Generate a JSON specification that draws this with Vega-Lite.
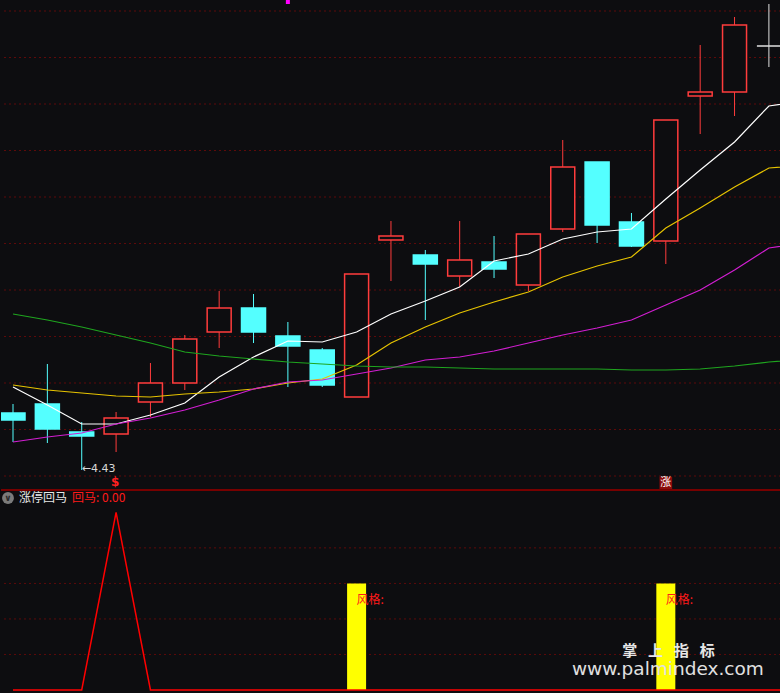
{
  "$schema": "https://vega.github.io/schema/vega-lite/v6.json",
  "background": "#0d0d10",
  "padding": 0,
  "spacing": 0,
  "bounds": "flush",
  "config": {"view": {"stroke": null}, "font": "DejaVu Sans", "scale": {"continuousPadding": 0}},
  "datasets": {
    "k": [
      {"i":1,"open":4.658,"close":4.63,"high":4.694,"low":4.542,"dir":"down"},
      {"i":2,"open":4.694,"close":4.594,"high":4.854,"low":4.538,"dir":"down"},
      {"i":3,"open":4.582,"close":4.566,"high":4.622,"low":4.43,"dir":"down"},
      {"i":4,"open":4.574,"close":4.638,"high":4.662,"low":4.502,"dir":"up"},
      {"i":5,"open":4.702,"close":4.778,"high":4.858,"low":4.642,"dir":"up"},
      {"i":6,"open":4.778,"close":4.954,"high":4.97,"low":4.75,"dir":"up"},
      {"i":7,"open":4.982,"close":5.078,"high":5.146,"low":4.918,"dir":"up"},
      {"i":8,"open":5.078,"close":4.982,"high":5.134,"low":4.938,"dir":"down"},
      {"i":9,"open":4.966,"close":4.926,"high":5.022,"low":4.762,"dir":"down"},
      {"i":10,"open":4.91,"close":4.77,"high":4.918,"low":4.762,"dir":"down"},
      {"i":11,"open":4.722,"close":5.214,"high":5.214,"low":4.722,"dir":"up"},
      {"i":12,"open":5.35,"close":5.366,"high":5.426,"low":5.186,"dir":"up"},
      {"i":13,"open":5.29,"close":5.254,"high":5.31,"low":5.03,"dir":"down"},
      {"i":14,"open":5.206,"close":5.27,"high":5.426,"low":5.162,"dir":"up"},
      {"i":15,"open":5.262,"close":5.234,"high":5.366,"low":5.198,"dir":"down"},
      {"i":16,"open":5.17,"close":5.374,"high":5.374,"low":5.146,"dir":"up"},
      {"i":17,"open":5.394,"close":5.642,"high":5.75,"low":5.382,"dir":"up"},
      {"i":18,"open":5.662,"close":5.41,"high":5.662,"low":5.338,"dir":"down"},
      {"i":19,"open":5.422,"close":5.326,"high":5.458,"low":5.322,"dir":"down"},
      {"i":20,"open":5.346,"close":5.83,"high":5.83,"low":5.254,"dir":"up"},
      {"i":21,"open":5.926,"close":5.942,"high":6.13,"low":5.774,"dir":"up"},
      {"i":22,"open":5.942,"close":6.21,"high":6.242,"low":5.846,"dir":"up"},
      {"i":23,"open":6.126,"close":6.126,"high":6.294,"low":6.042,"dir":"flat"}
    ],
    "ma": [
      {"i":1,"MA5":4.762,"MA10":4.77,"MA20":4.542,"MA60":5.054},
      {"i":2,"MA5":4.69,"MA10":4.75,"MA20":4.562,"MA60":5.03},
      {"i":3,"MA5":4.614,"MA10":4.738,"MA20":4.578,"MA60":5.002},
      {"i":4,"MA5":4.614,"MA10":4.726,"MA20":4.614,"MA60":4.97},
      {"i":5,"MA5":4.65,"MA10":4.722,"MA20":4.638,"MA60":4.938},
      {"i":6,"MA5":4.698,"MA10":4.734,"MA20":4.67,"MA60":4.902},
      {"i":7,"MA5":4.802,"MA10":4.742,"MA20":4.71,"MA60":4.886},
      {"i":8,"MA5":4.882,"MA10":4.754,"MA20":4.754,"MA60":4.874},
      {"i":9,"MA5":4.946,"MA10":4.778,"MA20":4.782,"MA60":4.862},
      {"i":10,"MA5":4.942,"MA10":4.794,"MA20":4.79,"MA60":4.854},
      {"i":11,"MA5":4.982,"MA10":4.85,"MA20":4.814,"MA60":4.846},
      {"i":12,"MA5":5.054,"MA10":4.938,"MA20":4.838,"MA60":4.842},
      {"i":13,"MA5":5.106,"MA10":5.002,"MA20":4.87,"MA60":4.842},
      {"i":14,"MA5":5.162,"MA10":5.058,"MA20":4.882,"MA60":4.838},
      {"i":15,"MA5":5.266,"MA10":5.102,"MA20":4.906,"MA60":4.834},
      {"i":16,"MA5":5.294,"MA10":5.142,"MA20":4.938,"MA60":4.834},
      {"i":17,"MA5":5.354,"MA10":5.202,"MA20":4.97,"MA60":4.834},
      {"i":18,"MA5":5.382,"MA10":5.246,"MA20":4.998,"MA60":4.834},
      {"i":19,"MA5":5.394,"MA10":5.282,"MA20":5.03,"MA60":4.83},
      {"i":20,"MA5":5.514,"MA10":5.398,"MA20":5.09,"MA60":4.83},
      {"i":21,"MA5":5.63,"MA10":5.478,"MA20":5.15,"MA60":4.834},
      {"i":22,"MA5":5.742,"MA10":5.562,"MA20":5.23,"MA60":4.846},
      {"i":23,"MA5":5.886,"MA10":5.638,"MA20":5.318,"MA60":4.862},
      {"i":24,"MA5":5.906,"MA10":5.65,"MA20":5.338,"MA60":4.874}
    ],
    "ind": [
      {"i":1,"v":0},{"i":2,"v":0},{"i":3,"v":0},{"i":4,"v":5},{"i":5,"v":0},{"i":6,"v":0},
      {"i":7,"v":0},{"i":8,"v":0},{"i":9,"v":0},{"i":10,"v":0},{"i":11,"v":0},{"i":12,"v":0},
      {"i":13,"v":0},{"i":14,"v":0},{"i":15,"v":0},{"i":16,"v":0},{"i":17,"v":0},{"i":18,"v":0},
      {"i":19,"v":0},{"i":20,"v":0},{"i":21,"v":0},{"i":22,"v":0},{"i":23,"v":0},{"i":24,"v":0}
    ],
    "zt": [{"i":11,"v":3},{"i":20,"v":3}],
    "gridTop": [{"level":6.266},{"level":6.08},{"level":5.894},{"level":5.708},{"level":5.522},{"level":5.336},{"level":5.15},{"level":4.964},{"level":4.778},{"level":4.592},{"level":4.406}],
    "gridBot": [{"level":1},{"level":2},{"level":3},{"level":4}]
  },
  "vconcat": [
    {
      "width": 780,
      "height": 490,
      "resolve": {"scale": {"color": "independent", "stroke": "independent", "fill": "independent"}},
      "layer": [
        {
          "data": {"name": "gridTop"},
          "mark": {"type": "rule", "color": "#5e0a0a", "strokeWidth": 1, "strokeDash": [2, 3]},
          "encoding": {
            "y": {"field": "level", "type": "quantitative", "scale": {"domain": [4.35, 6.31], "nice": false, "zero": false, "padding": 0}, "axis": null}
          }
        },
        {
          "data": {"name": "k"},
          "mark": {"type": "rule", "strokeWidth": 1, "clip": true},
          "encoding": {
            "x": {"field": "i", "type": "quantitative", "scale": {"domain": [0.6507, 23.352], "nice": false, "zero": false, "padding": 0}, "axis": null},
            "y": {"field": "low", "type": "quantitative", "axis": null},
            "y2": {"field": "high"},
            "stroke": {"field": "dir", "type": "nominal", "scale": {"domain": ["up", "down", "flat"], "range": ["#ff3c3c", "#54ffff", "#e0e0e0"]}, "legend": null}
          }
        },
        {
          "data": {"name": "k"},
          "mark": {"type": "bar", "width": 24, "strokeWidth": 1.5, "clip": true},
          "encoding": {
            "x": {"field": "i", "type": "quantitative", "axis": null},
            "y": {"field": "open", "type": "quantitative", "axis": null},
            "y2": {"field": "close"},
            "stroke": {"field": "dir", "type": "nominal", "scale": {"domain": ["up", "down", "flat"], "range": ["#ff3c3c", "#54ffff", "#e0e0e0"]}, "legend": null},
            "fill": {"field": "dir", "type": "nominal", "scale": {"domain": ["up", "down", "flat"], "range": ["#0d0d10", "#54ffff", "#0d0d10"]}, "legend": null}
          }
        },
        {
          "data": {"name": "ma"},
          "transform": [{"fold": ["MA5", "MA10", "MA20", "MA60"], "as": ["s", "val"]}],
          "mark": {"type": "line", "strokeWidth": 1.2, "clip": true},
          "encoding": {
            "x": {"field": "i", "type": "quantitative", "axis": null},
            "y": {"field": "val", "type": "quantitative", "axis": null},
            "color": {"field": "s", "type": "nominal", "scale": {"domain": ["MA5", "MA10", "MA20", "MA60"], "range": ["#ffffff", "#e6c300", "#d21ed2", "#1fa51f"]}, "legend": null}
          }
        },
        {
          "data": {"values": [{"i": 9, "p": 6.302}]},
          "mark": {"type": "square", "size": 16, "filled": true, "color": "#ff00ff", "opacity": 1},
          "encoding": {
            "x": {"field": "i", "type": "quantitative", "axis": null},
            "y": {"field": "p", "type": "quantitative", "axis": null}
          }
        },
        {
          "data": {"values": [{"i": 3, "p": 4.43, "t": "←4.43"}]},
          "mark": {"type": "text", "align": "left", "baseline": "middle", "fontSize": 11, "color": "#d8d8d8", "dy": -1},
          "encoding": {
            "x": {"field": "i", "type": "quantitative", "axis": null},
            "y": {"field": "p", "type": "quantitative", "axis": null},
            "text": {"field": "t"}
          }
        },
        {
          "data": {"values": [{"i": 4, "t": "$"}]},
          "mark": {"type": "text", "align": "center", "baseline": "middle", "fontSize": 12, "fontWeight": "bold", "color": "#ff2020", "dx": -1, "dy": -1},
          "encoding": {
            "x": {"field": "i", "type": "quantitative", "axis": null},
            "y": {"datum": 4.378, "type": "quantitative", "axis": null},
            "text": {"field": "t"}
          }
        },
        {
          "data": {"values": [{"i": 20, "t": "涨"}]},
          "mark": {"type": "square", "size": 160, "filled": true, "color": "#8b0b0b", "opacity": 1},
          "encoding": {
            "x": {"field": "i", "type": "quantitative", "axis": null},
            "y": {"datum": 4.378, "type": "quantitative", "axis": null}
          }
        },
        {
          "data": {"values": [{"i": 20, "t": "涨"}]},
          "mark": {"type": "text", "align": "center", "baseline": "middle", "fontSize": 11, "font": "Noto Sans CJK SC", "color": "#ffffff"},
          "encoding": {
            "x": {"field": "i", "type": "quantitative", "axis": null},
            "y": {"datum": 4.378, "type": "quantitative", "axis": null},
            "text": {"field": "t"}
          }
        }
      ]
    },
    {
      "width": 780,
      "height": 203,
      "layer": [
        {
          "data": {"name": "gridBot"},
          "mark": {"type": "rule", "color": "#5e0a0a", "strokeWidth": 1, "strokeDash": [2, 3]},
          "encoding": {
            "y": {"field": "level", "type": "quantitative", "scale": {"domain": [-0.085, 5.63], "nice": false, "zero": false, "padding": 0}, "axis": null}
          }
        },
        {
          "data": {"values": [{"t": "sep"}]},
          "mark": {"type": "rule", "color": "#780000", "strokeWidth": 2},
          "encoding": {
            "y": {"datum": 5.63, "type": "quantitative", "axis": null}
          }
        },
        {
          "data": {"name": "zt"},
          "mark": {"type": "bar", "width": 19, "color": "#ffff00", "clip": true},
          "encoding": {
            "x": {"field": "i", "type": "quantitative", "scale": {"domain": [0.6507, 23.352], "nice": false, "zero": false, "padding": 0}, "axis": null},
            "y": {"field": "v", "type": "quantitative", "axis": null},
            "y2": {"datum": 0}
          }
        },
        {
          "data": {"name": "ind"},
          "mark": {"type": "line", "color": "#ff0000", "strokeWidth": 1.5, "clip": true},
          "encoding": {
            "x": {"field": "i", "type": "quantitative", "axis": null},
            "y": {"field": "v", "type": "quantitative", "axis": null}
          }
        },
        {
          "data": {"name": "zt"},
          "mark": {"type": "text", "align": "left", "baseline": "middle", "fontSize": 12, "font": "Noto Sans CJK SC", "color": "#ff1a1a"},
          "encoding": {
            "x": {"field": "i", "type": "quantitative", "axis": null},
            "y": {"datum": 2.54, "type": "quantitative", "axis": null},
            "text": {"value": "风格:"}
          }
        },
        {
          "data": {"values": [{"t": "涨停回马"}]},
          "mark": {"type": "circle", "size": 140, "filled": true, "color": "#7b7b7b", "opacity": 1},
          "encoding": {
            "x": {"datum": 0.8545, "type": "quantitative", "axis": null},
            "y": {"datum": 5.405, "type": "quantitative", "axis": null}
          }
        },
        {
          "data": {"values": [{"t": "∨"}]},
          "mark": {"type": "text", "align": "center", "baseline": "middle", "fontSize": 9, "color": "#2a2a2a", "fontWeight": "bold"},
          "encoding": {
            "x": {"datum": 0.8545, "type": "quantitative", "axis": null},
            "y": {"datum": 5.405, "type": "quantitative", "axis": null},
            "text": {"field": "t"}
          }
        },
        {
          "data": {"values": [{"t": "涨停回马"}]},
          "mark": {"type": "text", "align": "left", "baseline": "middle", "fontSize": 12, "font": "Noto Sans CJK SC", "color": "#e8e8e8"},
          "encoding": {
            "x": {"datum": 1.1746, "type": "quantitative", "axis": null},
            "y": {"datum": 5.405, "type": "quantitative", "axis": null},
            "text": {"field": "t"}
          }
        },
        {
          "data": {"values": [{"t": "回马: 0.00"}]},
          "mark": {"type": "text", "align": "left", "baseline": "middle", "fontSize": 12, "font": "Noto Sans CJK SC", "color": "#ff1a1a"},
          "encoding": {
            "x": {"datum": 2.717, "type": "quantitative", "axis": null},
            "y": {"datum": 5.405, "type": "quantitative", "axis": null},
            "text": {"field": "t"}
          }
        },
        {
          "data": {"values": [{"t": "掌\u2002 上\u2002 指\u2002 标"}]},
          "mark": {"type": "text", "align": "center", "baseline": "alphabetic", "fontSize": 15, "fontWeight": "bold", "font": "Noto Sans CJK SC", "color": "#e6e6e6"},
          "encoding": {
            "x": {"datum": 20.078, "type": "quantitative", "axis": null},
            "y": {"datum": 0.96, "type": "quantitative", "axis": null},
            "text": {"field": "t"}
          }
        },
        {
          "data": {"values": [{"t": "www.palmindex.com"}]},
          "mark": {"type": "text", "align": "center", "baseline": "alphabetic", "fontSize": 18.5, "font": "DejaVu Sans", "color": "#e0e0e0"},
          "encoding": {
            "x": {"datum": 20.06, "type": "quantitative", "axis": null},
            "y": {"datum": 0.42, "type": "quantitative", "axis": null},
            "text": {"field": "t"}
          }
        }
      ]
    }
  ]
}
